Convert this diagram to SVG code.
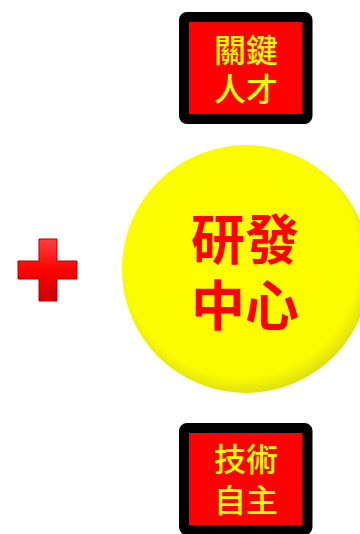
<svg xmlns="http://www.w3.org/2000/svg" width="360" height="534" viewBox="0 0 360 534">
<defs>
<style>
.box{fill:#FF0000;stroke:#000000;stroke-width:10}
.bt{font-family:"Noto Sans CJK TC","Noto Sans CJK SC",sans-serif;font-size:32px;font-weight:500;fill:#FFFF00;text-anchor:middle;dominant-baseline:central}
.ct{font-family:"Noto Sans CJK TC","Noto Sans CJK SC",sans-serif;font-size:54px;font-weight:bold;fill:#FF0000;text-anchor:middle;dominant-baseline:central}
</style>
<radialGradient id="yg" cx="0.48" cy="0.46" r="0.54">
<stop offset="0" stop-color="#FFFF00"/>
<stop offset="0.88" stop-color="#FCFC00"/>
<stop offset="1" stop-color="#E0E010"/>
</radialGradient>
<linearGradient id="rg" x1="0" y1="0" x2="0" y2="1">
<stop offset="0" stop-color="#FF4040"/>
<stop offset="0.5" stop-color="#FF0000"/>
<stop offset="1" stop-color="#C80000"/>
</linearGradient>
</defs>
<g id="plus">
<path d="M39,239 H57 V261 H77 V279 H57 V301 H39 V279 H18 V261 H39 Z" fill="url(#rg)" stroke="#B00000" stroke-width="1"/>
</g>
<g id="center">
<circle cx="246" cy="269" r="124" fill="url(#yg)"/>
<text class="ct"><tspan x="245" y="236">研發</tspan><tspan x="245" y="302">中心</tspan></text>
</g>
<g id="top">
<rect class="box" x="184" y="17" width="123.5" height="102" rx="3"/>
<text class="bt"><tspan x="246" y="47.5">關鍵</tspan><tspan x="246" y="86.5">人才</tspan></text>
</g>
<g id="bottom">
<rect class="box" x="184" y="428" width="123.5" height="102" rx="3"/>
<text class="bt"><tspan x="246" y="457">技術</tspan><tspan x="246" y="497.5">自主</tspan></text>
</g>
<g id="connectors"/>
</svg>
